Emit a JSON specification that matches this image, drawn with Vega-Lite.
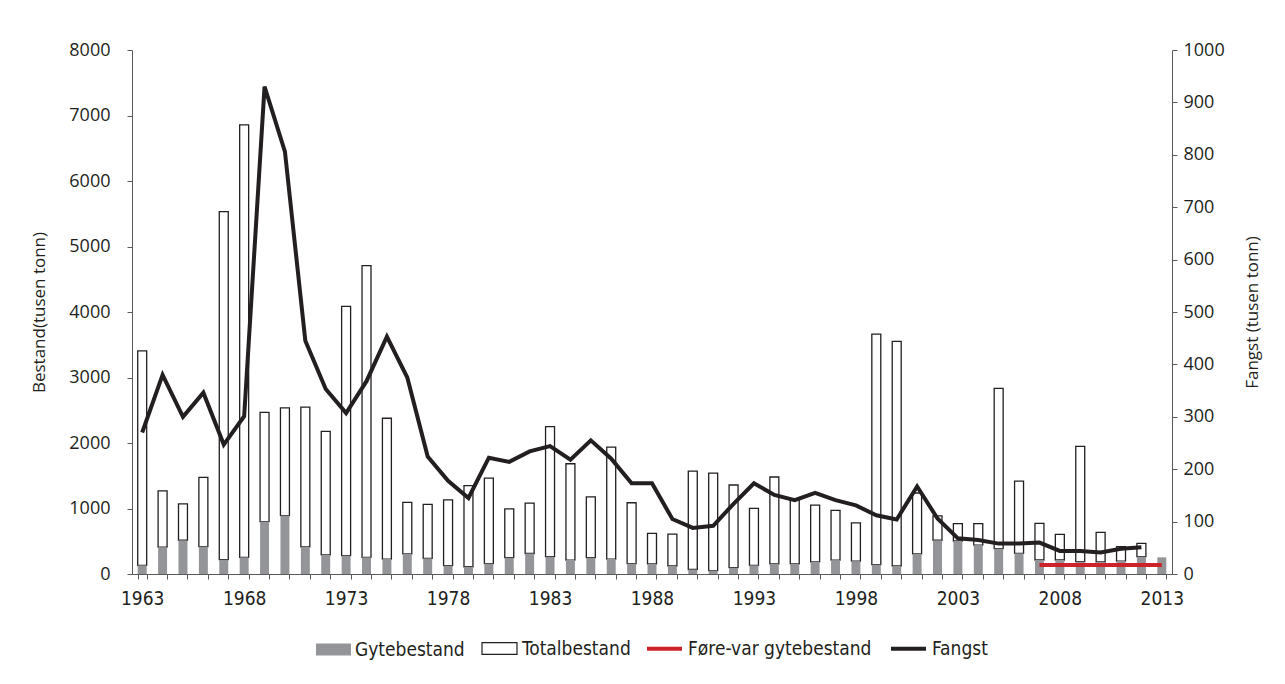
{
  "$schema": "https://vega.github.io/schema/vega-lite/v6.json",
  "width": 1040,
  "height": 524,
  "autosize": {"type": "none"},
  "padding": {"left": 132, "top": 50, "right": 113, "bottom": 110},
  "background": "white",
  "config": {
    "view": {"stroke": null},
    "font": "Open Sans",
    "legend": {
      "labelFont": "Liberation Sans Narrow, DejaVu Sans Condensed, sans-serif",
      "labelFontSize": 19,
      "labelColor": "#231f20",
      "labelLimit": 0,
      "labelOffset": 4,
      "columnPadding": 11,
      "symbolSize": 1225,
      "orient": "none",
      "direction": "horizontal",
      "title": null,
      "legendY": 580
    }
  },
  "data": {"values": [
    {"year": 1963, "Totalbestand": 3408, "Gytebestand": 133, "Fangst": 270, "Forevar": null},
    {"year": 1964, "Totalbestand": 1269, "Gytebestand": 409, "Fangst": 380, "Forevar": null},
    {"year": 1965, "Totalbestand": 1072, "Gytebestand": 515, "Fangst": 300, "Forevar": null},
    {"year": 1966, "Totalbestand": 1476, "Gytebestand": 419, "Fangst": 346, "Forevar": null},
    {"year": 1967, "Totalbestand": 5531, "Gytebestand": 218, "Fangst": 247, "Forevar": null},
    {"year": 1968, "Totalbestand": 6858, "Gytebestand": 255, "Fangst": 301, "Forevar": null},
    {"year": 1969, "Totalbestand": 2468, "Gytebestand": 801, "Fangst": 930, "Forevar": null},
    {"year": 1970, "Totalbestand": 2537, "Gytebestand": 892, "Fangst": 806, "Forevar": null},
    {"year": 1971, "Totalbestand": 2548, "Gytebestand": 414, "Fangst": 445, "Forevar": null},
    {"year": 1972, "Totalbestand": 2176, "Gytebestand": 292, "Fangst": 353, "Forevar": null},
    {"year": 1973, "Totalbestand": 4087, "Gytebestand": 281, "Fangst": 307, "Forevar": null},
    {"year": 1974, "Totalbestand": 4708, "Gytebestand": 255, "Fangst": 368, "Forevar": null},
    {"year": 1975, "Totalbestand": 2378, "Gytebestand": 228, "Fangst": 453, "Forevar": null},
    {"year": 1976, "Totalbestand": 1093, "Gytebestand": 308, "Fangst": 375, "Forevar": null},
    {"year": 1977, "Totalbestand": 1062, "Gytebestand": 239, "Fangst": 224, "Forevar": null},
    {"year": 1978, "Totalbestand": 1131, "Gytebestand": 127, "Fangst": 178, "Forevar": null},
    {"year": 1979, "Totalbestand": 1348, "Gytebestand": 111, "Fangst": 145, "Forevar": null},
    {"year": 1980, "Totalbestand": 1465, "Gytebestand": 159, "Fangst": 222, "Forevar": null},
    {"year": 1981, "Totalbestand": 993, "Gytebestand": 249, "Fangst": 214, "Forevar": null},
    {"year": 1982, "Totalbestand": 1083, "Gytebestand": 313, "Fangst": 234, "Forevar": null},
    {"year": 1983, "Totalbestand": 2251, "Gytebestand": 265, "Fangst": 244, "Forevar": null},
    {"year": 1984, "Totalbestand": 1683, "Gytebestand": 212, "Fangst": 218, "Forevar": null},
    {"year": 1985, "Totalbestand": 1178, "Gytebestand": 249, "Fangst": 255, "Forevar": null},
    {"year": 1986, "Totalbestand": 1937, "Gytebestand": 228, "Fangst": 220, "Forevar": null},
    {"year": 1987, "Totalbestand": 1088, "Gytebestand": 159, "Fangst": 173, "Forevar": null},
    {"year": 1988, "Totalbestand": 621, "Gytebestand": 154, "Fangst": 173, "Forevar": null},
    {"year": 1989, "Totalbestand": 610, "Gytebestand": 122, "Fangst": 105, "Forevar": null},
    {"year": 1990, "Totalbestand": 1571, "Gytebestand": 69, "Fangst": 88, "Forevar": null},
    {"year": 1991, "Totalbestand": 1539, "Gytebestand": 53, "Fangst": 92, "Forevar": null},
    {"year": 1992, "Totalbestand": 1359, "Gytebestand": 96, "Fangst": 134, "Forevar": null},
    {"year": 1993, "Totalbestand": 1003, "Gytebestand": 133, "Fangst": 173, "Forevar": null},
    {"year": 1994, "Totalbestand": 1481, "Gytebestand": 154, "Fangst": 151, "Forevar": null},
    {"year": 1995, "Totalbestand": 1131, "Gytebestand": 154, "Fangst": 141, "Forevar": null},
    {"year": 1996, "Totalbestand": 1051, "Gytebestand": 186, "Fangst": 155, "Forevar": null},
    {"year": 1997, "Totalbestand": 971, "Gytebestand": 212, "Fangst": 141, "Forevar": null},
    {"year": 1998, "Totalbestand": 780, "Gytebestand": 196, "Fangst": 131, "Forevar": null},
    {"year": 1999, "Totalbestand": 3662, "Gytebestand": 143, "Fangst": 112, "Forevar": null},
    {"year": 2000, "Totalbestand": 3551, "Gytebestand": 122, "Fangst": 104, "Forevar": null},
    {"year": 2001, "Totalbestand": 1237, "Gytebestand": 308, "Fangst": 167, "Forevar": null},
    {"year": 2002, "Totalbestand": 886, "Gytebestand": 515, "Fangst": 106, "Forevar": null},
    {"year": 2003, "Totalbestand": 770, "Gytebestand": 504, "Fangst": 68, "Forevar": null},
    {"year": 2004, "Totalbestand": 770, "Gytebestand": 441, "Fangst": 65, "Forevar": null},
    {"year": 2005, "Totalbestand": 2834, "Gytebestand": 387, "Fangst": 58, "Forevar": null},
    {"year": 2006, "Totalbestand": 1417, "Gytebestand": 316, "Fangst": 58, "Forevar": null},
    {"year": 2007, "Totalbestand": 774, "Gytebestand": 214, "Fangst": 60, "Forevar": 137},
    {"year": 2008, "Totalbestand": 606, "Gytebestand": 214, "Fangst": 44, "Forevar": 137},
    {"year": 2009, "Totalbestand": 1948, "Gytebestand": 188, "Fangst": 44, "Forevar": 137},
    {"year": 2010, "Totalbestand": 636, "Gytebestand": 183, "Fangst": 41, "Forevar": 137},
    {"year": 2011, "Totalbestand": 417, "Gytebestand": 198, "Fangst": 48, "Forevar": 137},
    {"year": 2012, "Totalbestand": 468, "Gytebestand": 265, "Fangst": 51, "Forevar": 137},
    {"year": 2013, "Totalbestand": null, "Gytebestand": 254, "Fangst": null, "Forevar": 137}
  ]},
  "encoding": {
    "x": {
      "field": "year",
      "type": "ordinal",
      "scale": {"paddingInner": 0.56, "paddingOuter": 0.28},
      "axis": {
        "title": null,
        "labelExpr": "(datum.value - 1963) % 5 == 0 ? datum.value : ''",
        "labelAngle": 0,
        "labelOverlap": false,
        "tickBand": "extent",
        "tickSize": 5,
        "tickColor": "#595959",
        "domainColor": "#595959",
        "labelFont": "Liberation Sans Narrow, DejaVu Sans Condensed, sans-serif",
        "labelFontSize": 19,
        "labelColor": "#231f20",
        "labelPadding": 10
      }
    }
  },
  "layer": [
    {
      "layer": [
        {
          "mark": {"type": "bar", "fill": "#ffffff", "strokeWidth": 1.3},
          "encoding": {
            "y": {
              "field": "Totalbestand",
              "type": "quantitative",
              "scale": {"domain": [0, 8000], "nice": false},
              "axis": {
                "title": "Bestand(tusen tonn)",
                "orient": "left",
                "values": [0, 1000, 2000, 3000, 4000, 5000, 6000, 7000, 8000],
                "format": "d",
                "grid": false,
                "tickSize": 5,
                "tickColor": "#595959",
                "domainColor": "#595959",
                "labelFont": "Open Sans",
                "labelFontSize": 18,
                "labelColor": "#231f20",
                "labelPadding": 17,
                "titleFont": "Open Sans",
                "titleFontSize": 17,
                "titleFontWeight": "normal",
                "titleColor": "#231f20",
                "titlePadding": 20
              }
            },
            "y2": {"field": "Gytebestand"},
            "stroke": {
              "datum": "Totalbestand",
              "type": "nominal",
              "scale": {"domain": ["Totalbestand"], "range": ["#231f20"]},
              "legend": {
                "legendX": 349,
                "legendY": 580,
                "symbolType": "M-1,-0.34H1V0.34H-1Z",
                "symbolFillColor": "#ffffff",
                "symbolStrokeWidth": 1.2,
                "symbolOpacity": 1
              }
            }
          }
        },
        {
          "mark": {"type": "bar"},
          "encoding": {
            "y": {"field": "Gytebestand", "type": "quantitative"},
            "fill": {
              "datum": "Gytebestand",
              "type": "nominal",
              "scale": {"domain": ["Gytebestand"], "range": ["#939598"]},
              "legend": {
                "legendX": 184,
                "legendY": 582,
                "symbolType": "M-1,-0.34H1V0.34H-1Z",
                "symbolStrokeWidth": 0,
                "symbolOpacity": 1
              }
            }
          }
        },
        {
          "mark": {"type": "line", "strokeWidth": 4, "strokeCap": "butt"},
          "encoding": {
            "y": {"field": "Forevar", "type": "quantitative"},
            "color": {
              "datum": "Føre-var gytebestand",
              "type": "nominal",
              "scale": {"domain": ["Føre-var gytebestand", "Fangst"], "range": ["#cc2229", "#231f20"]},
              "legend": {
                "legendX": 513,
                "legendY": 579,
                "symbolType": "stroke",
                "symbolStrokeWidth": 4,
                "symbolOpacity": 1
              }
            }
          }
        }
      ]
    },
    {
      "mark": {"type": "line", "strokeWidth": 4, "strokeCap": "butt"},
      "encoding": {
        "y": {
          "field": "Fangst",
          "type": "quantitative",
          "scale": {"domain": [0, 1000], "nice": false},
          "axis": {
            "title": "Fangst (tusen tonn)",
            "orient": "right",
            "values": [0, 100, 200, 300, 400, 500, 600, 700, 800, 900, 1000],
            "format": "d",
            "grid": false,
            "tickSize": 5,
            "tickColor": "#595959",
            "domainColor": "#595959",
            "labelFont": "Open Sans",
            "labelFontSize": 18,
            "labelColor": "#231f20",
            "labelPadding": 6,
            "titleFont": "Open Sans",
            "titleFontSize": 17,
            "titleFontWeight": "normal",
            "titleColor": "#231f20",
            "titleAngle": -90,
            "titleBaseline": "top",
            "titlePadding": 20
          }
        },
        "color": {"datum": "Fangst", "type": "nominal"}
      }
    }
  ],
  "resolve": {"scale": {"y": "independent"}}
}
